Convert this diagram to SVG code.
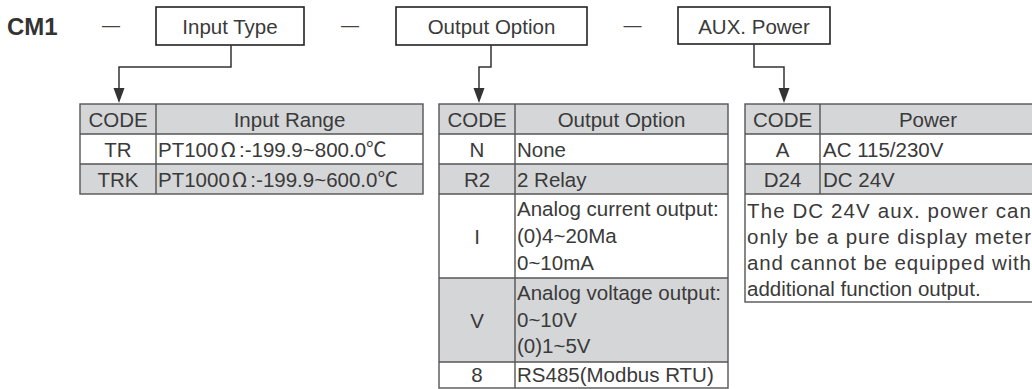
<svg xmlns="http://www.w3.org/2000/svg" width="1032" height="389" viewBox="0 0 1032 389">
<defs>
<style>
text{font-family:"Liberation Sans","Noto Sans CJK SC",sans-serif;font-size:20.5px;fill:#3a3a3a}
.c{text-anchor:middle}
.cjk{font-family:"Noto Sans CJK SC",sans-serif}
.title{font-size:24px;font-weight:bold;fill:#333}
.dash{font-size:18px;fill:#444;text-anchor:middle}
.box{fill:#fff;stroke:#222;stroke-width:1.6}
.g{fill:#d5d6d8}
.w{fill:#fff}
.grid{fill:none;stroke:#555;stroke-width:1.4}
.conn{fill:none;stroke:#333;stroke-width:1.5}
.arrow{fill:#333}
</style>
</defs>
<rect width="1032" height="389" fill="#fff"/>
<text class="title" x="7" y="35">CM1</text>
<text class="dash" x="111" y="31">—</text>
<text class="dash" x="350" y="31">—</text>
<text class="dash" x="632.5" y="31">—</text>

<g id="node-input-type">
<rect class="box" x="156" y="7" width="148" height="38"/>
<text class="c" x="230" y="34">Input Type</text>
</g>
<g id="node-output-option">
<rect class="box" x="396" y="7" width="191" height="38"/>
<text class="c" x="491.5" y="34">Output Option</text>
</g>
<g id="node-aux-power">
<rect class="box" x="678" y="7" width="152" height="37"/>
<text class="c" x="754" y="34">AUX. Power</text>
</g>

<g id="connectors">
<polyline class="conn" points="231,45 231,67 119,67 119,90"/>
<polygon class="arrow" points="113.5,88 124.5,88 119,103"/>
<polyline class="conn" points="491,45 491,67 479,67 479,90"/>
<polygon class="arrow" points="473.5,88 484.5,88 479,103"/>
<polyline class="conn" points="754,44 754,67 784,67 784,90"/>
<polygon class="arrow" points="778.5,88 789.5,88 784,103"/>
</g>

<g id="table-input">
<rect class="g" x="80" y="104" width="343" height="30"/>
<rect class="w" x="80" y="134" width="343" height="30"/>
<rect class="g" x="80" y="164" width="343" height="30"/>
<rect class="grid" x="80" y="104" width="343" height="90"/>
<path class="grid" d="M80 134H423M80 164H423M156 104V194"/>
<text class="c" x="118" y="127">CODE</text>
<text class="c" x="289.5" y="127">Input Range</text>
<text class="c" x="118" y="157">TR</text>
<text x="158" y="157">PT100<tspan class="cjk" dx="2">Ω</tspan><tspan dx="3">:-199.9~800.0</tspan><tspan class="cjk">℃</tspan></text>
<text class="c" x="118" y="187">TRK</text>
<text x="158" y="187">PT1000<tspan class="cjk" dx="2">Ω</tspan><tspan dx="3">:-199.9~600.0</tspan><tspan class="cjk">℃</tspan></text>
</g>

<g id="table-output">
<rect class="g" x="439" y="104" width="289" height="30"/>
<rect class="w" x="439" y="134" width="289" height="30"/>
<rect class="g" x="439" y="164" width="289" height="30"/>
<rect class="w" x="439" y="194" width="289" height="84"/>
<rect class="g" x="439" y="278" width="289" height="84"/>
<rect class="w" x="439" y="362" width="289" height="26"/>
<rect class="grid" x="439" y="104" width="289" height="284"/>
<path class="grid" d="M439 134H728M439 164H728M439 194H728M439 278H728M439 362H728M515 104V388"/>
<text class="c" x="477" y="127">CODE</text>
<text class="c" x="621.5" y="127">Output Option</text>
<text class="c" x="477" y="157">N</text>
<text x="517" y="157">None</text>
<text class="c" x="477" y="187">R2</text>
<text x="517" y="187">2 Relay</text>
<text class="c" x="477" y="243.5">I</text>
<text x="517" y="216">Analog current output:</text>
<text x="517" y="243">(0)4~20Ma</text>
<text x="517" y="270">0~10mA</text>
<text class="c" x="477" y="327.5">V</text>
<text x="517" y="300">Analog voltage output:</text>
<text x="517" y="327">0~10V</text>
<text x="517" y="353">(0)1~5V</text>
<text class="c" x="477" y="382">8</text>
<text x="517" y="382">RS485(Modbus RTU)</text>
</g>

<g id="table-power">
<rect class="g" x="745" y="104" width="289" height="30"/>
<rect class="w" x="745" y="134" width="289" height="30"/>
<rect class="g" x="745" y="164" width="289" height="30"/>
<rect class="w" x="745" y="194" width="289" height="108"/>
<rect class="grid" x="745" y="104" width="289" height="198"/>
<path class="grid" d="M745 134H1034M745 164H1034M745 194H1034M820 104V194"/>
<text class="c" x="782.5" y="127">CODE</text>
<text class="c" x="928" y="127">Power</text>
<text class="c" x="782.5" y="157">A</text>
<text x="823" y="157">AC 115/230V</text>
<text class="c" x="782.5" y="187">D24</text>
<text x="823" y="187">DC 24V</text>
<text x="747" y="218" textLength="284" lengthAdjust="spacing">The DC 24V aux. power can</text>
<text x="747" y="244" textLength="284" lengthAdjust="spacing">only be a pure display meter</text>
<text x="747" y="270" textLength="284" lengthAdjust="spacing">and cannot be equipped with</text>
<text x="747" y="296">additional function output.</text>
</g>
</svg>
